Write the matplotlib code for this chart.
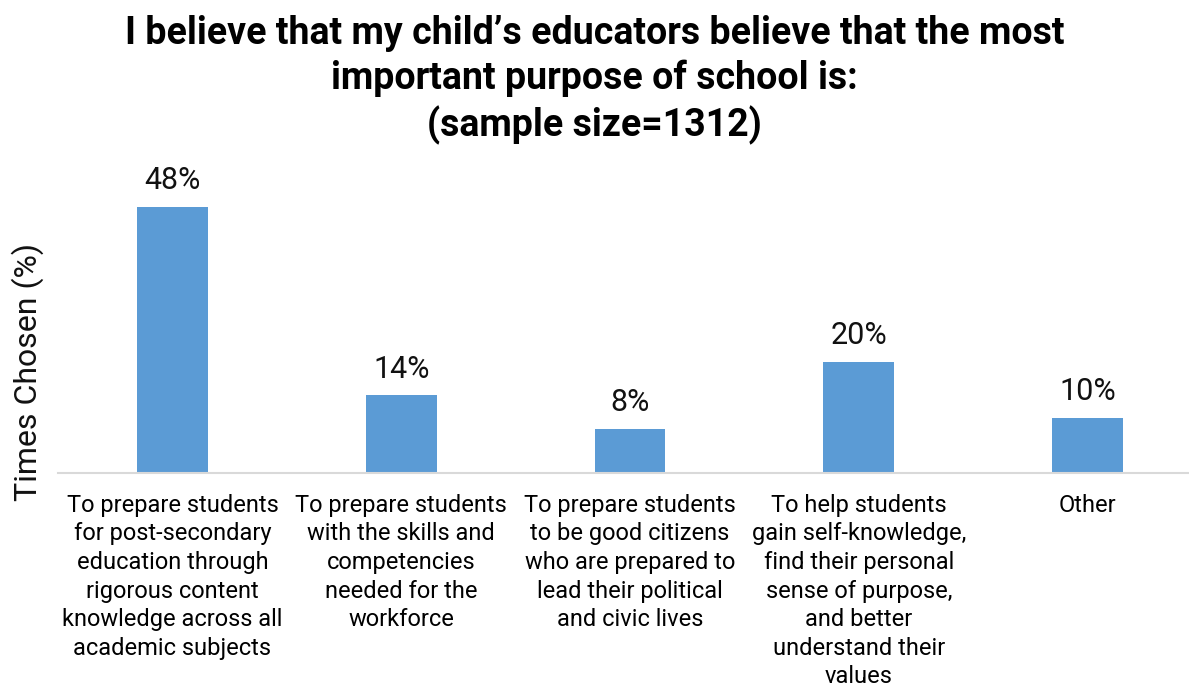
import matplotlib.pyplot as plt

plt.rcParams['font.family'] = ['Roboto', 'DejaVu Sans']

categories = [
    "To prepare students\nfor post-secondary\neducation through\nrigorous content\nknowledge across all\nacademic subjects",
    "To prepare students\nwith the skills and\ncompetencies\nneeded for the\nworkforce",
    "To prepare students\nto be good citizens\nwho are prepared to\nlead their political\nand civic lives",
    "To help students\ngain self-knowledge,\nfind their personal\nsense of purpose,\nand better\nunderstand their\nvalues",
    "Other",
]
values = [48, 14, 8, 20, 10]

W, H = 1189, 687
fig = plt.figure(figsize=(W / 100, H / 100), dpi=100)
# axes stretch a little past the right edge, like the source layout
ax = fig.add_axes([58 / W, 1 - 473 / H, 1144 / W, 277 / H])

x = range(len(values))
bars = ax.bar(x, values, width=0.31, color='#5B9BD5')
ax.set_xlim(-0.5, len(values) - 0.5)
ax.set_ylim(0, 50)

for b, v in zip(bars, values):
    ax.annotate(f"{v}%", (b.get_x() + b.get_width() / 2, v),
                xytext=(0, 8.5), textcoords='offset points',
                ha='center', va='bottom', fontsize=22, color='#111111')

ax.set_xticks(list(x))
ax.set_xticklabels(categories, fontsize=17, linespacing=1.31, va='top')
ax.tick_params(axis='x', length=0, pad=15)
ax.set_yticks([])

for s in ['top', 'right', 'left']:
    ax.spines[s].set_visible(False)
ax.spines['bottom'].set_color('#d9d9d9')
ax.spines['bottom'].set_linewidth(1.5)

fig.text(28 / W, 1 - 372 / H, "Times Chosen (%)", rotation=90,
         ha='center', va='center', fontsize=23, color='#111111')

fig.text(0.5, 1 - 80 / H,
         "I believe that my child\u2019s educators believe that the most\n"
         "important purpose of school is:\n(sample size=1312)",
         ha='center', va='center', fontsize=27, fontweight='bold',
         linespacing=1.27)

fig.savefig('out.png', dpi=100)
